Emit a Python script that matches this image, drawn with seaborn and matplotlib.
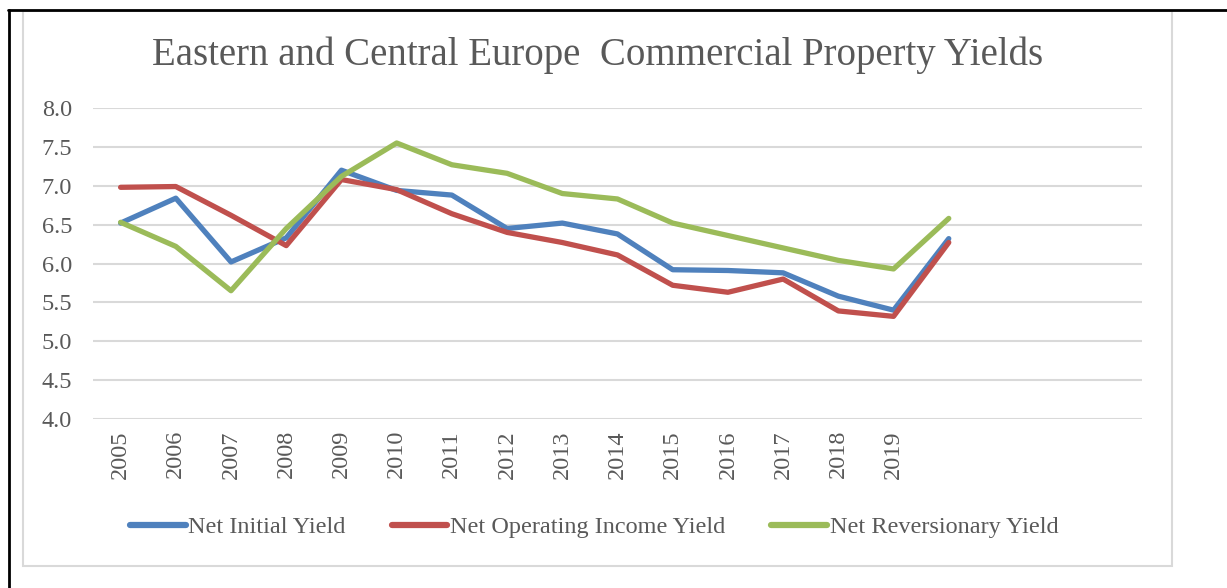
import pandas as pd
import numpy as np
import matplotlib
matplotlib.use('Agg')
import matplotlib.pyplot as plt
import seaborn as sns
from matplotlib.patches import Rectangle
from matplotlib.lines import Line2D

# Data
years = ['2005', '2006', '2007', '2008', '2009', '2010', '2011', '2012',
         '2013', '2014', '2015', '2016', '2017', '2018', '2019']
n_slots = 19  # category axis has extra blank slots at the right

net_initial = [6.52, 6.84, 6.02, 6.33, 7.20, 6.94, 6.88, 6.45, 6.52, 6.38,
               5.92, 5.91, 5.88, 5.58, 5.40, 6.32]
net_operating = [6.98, 6.99, 6.62, 6.23, 7.08, 6.95, 6.64, 6.40, 6.27, 6.11,
                 5.72, 5.63, 5.80, 5.39, 5.32, 6.27]
net_reversionary = [6.53, 6.22, 5.65, 6.45, 7.12, 7.55, 7.27, 7.16, 6.90, 6.83,
                    6.52, 6.36, 6.20, 6.04, 5.93, 6.58]

series = {
    'Net Initial Yield': net_initial,
    'Net Operating Income Yield': net_operating,
    'Net Reversionary Yield': net_reversionary,
}
colors = ['#4F81BD', '#C0504D', '#9BBB59']

rows = []
for name, vals in series.items():
    for i, v in enumerate(vals):
        rows.append({'pos': i, 'value': v, 'series': name})
df = pd.DataFrame(rows)

sns.set_theme(style='white')
plt.rcParams['font.family'] = ['Liberation Serif', 'DejaVu Serif']
text_color = '#595959'

fig = plt.figure(figsize=(12.27, 5.88), dpi=100)
W, H = 1227, 588
ax = fig.add_axes([93 / W, 1 - 419 / H, (1142 - 93) / W, (419 - 108) / H])

sns.lineplot(data=df, x='pos', y='value', hue='series', palette=colors,
             linewidth=3.8, ax=ax, legend=False, solid_capstyle='round')

ax.set_xlim(-0.5, n_slots - 0.5)
ax.set_ylim(4, 8)
ax.set_yticks(np.arange(4, 8.01, 0.5))
ax.set_yticklabels([f'{v:.1f}' for v in np.arange(4, 8.01, 0.5)],
                   fontsize=17.5, color=text_color)
ax.set_xticks(range(n_slots))
ax.set_xticklabels(years + [''] * (n_slots - len(years)), rotation=90,
                   fontsize=17.5, color=text_color)
ax.tick_params(axis='y', length=0, pad=15)
ax.tick_params(axis='x', length=0, pad=8)
ax.grid(axis='y', color='#D9D9D9', linewidth=1.5)
ax.grid(axis='x', visible=False)
for s in ax.spines.values():
    s.set_visible(False)
ax.set_xlabel('')
ax.set_ylabel('')

fig.text(598 / W, 1 - 55 / H, 'Eastern and Central Europe  Commercial Property Yields',
         ha='center', va='center', fontsize=28, color=text_color)

handles = [Line2D([0], [0], color=c, linewidth=4.5, solid_capstyle='round')
           for c in colors]
fig.legend(handles, list(series.keys()), loc='center', ncol=3,
           bbox_to_anchor=(594 / W, 1 - 527 / H), frameon=False,
           fontsize=17.5, labelcolor=text_color, handlelength=2.3,
           handletextpad=0.1, columnspacing=1.9)

# chart frame and page borders
fig.patches.append(Rectangle((23 / W, 1 - 566 / H), (1172 - 23) / W, (566 - 11) / H,
                             transform=fig.transFigure, fill=False,
                             edgecolor='#D9D9D9', linewidth=1.5))
fig.lines.append(Line2D([8 / W, 1], [1 - 9.5 / H, 1 - 9.5 / H],
                        transform=fig.transFigure, color='black', linewidth=2))
fig.lines.append(Line2D([8.5 / W, 8.5 / W], [0, 1 - 9.5 / H],
                        transform=fig.transFigure, color='black', linewidth=2))

fig.savefig('out.png', dpi=100)
